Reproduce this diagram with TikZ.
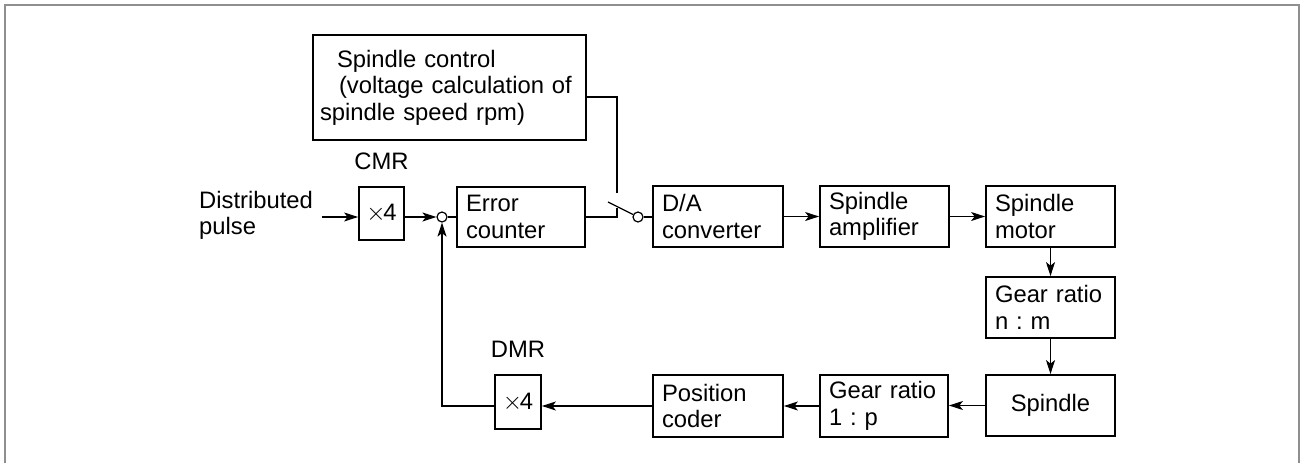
\documentclass[tikz,border=0pt]{standalone}
\usepackage{fontspec}
\setmainfont{Liberation Sans}
\usetikzlibrary{arrows.meta,calc}
\frenchspacing
\begin{document}
\begin{tikzpicture}[x=1pt,y=-1pt,
  font=\fontsize{23.8pt}{26.5pt}\selectfont,
  box/.style={draw, line width=1.8pt, inner ysep=0pt, inner xsep=9pt, align=left},
  lbl/.style={inner sep=0pt, align=left},
  conn/.style={line width=1.2pt},
  arr/.style={conn, -{Stealth[length=14pt,width=9pt,inset=3.5pt]}},
  ring/.style={circle, draw, line width=1.2pt, minimum size=10pt, inner sep=0pt},
  frame/.style={draw=black!44, line width=2.2pt}
]
\useasboundingbox (0,0) rectangle (1302,463);
\draw[frame] (5,475) -- (5,5) -- (1299,5) -- (1299,475);

% boxes
\node[box, text width=259pt, inner xsep=7pt, minimum height=105pt] (sc) at (449.5,87.5)
  {\leftskip=17pt Spindle control\\\hspace*{2pt}(voltage calculation of\\spindle speed rpm)};
\node[box, align=center, inner xsep=0pt, minimum width=45pt, minimum height=53pt] (cmr) at (381.5,213.5) {$\times$\kern-2.5pt 4};
\node[box, text width=110pt, minimum height=60pt] (ec) at (521,217) {Error\\counter};
\node[box, text width=112pt, minimum height=61pt] (da) at (718,216.5) {D/A\\converter};
\node[box, text width=111pt, minimum height=61pt] (amp) at (884.5,216.5) {Spindle\\amplifier};
\node[box, text width=111pt, minimum height=61pt] (mot) at (1050.5,216.5) {Spindle\\motor};
\node[box, text width=111pt, minimum height=61pt] (gnm) at (1050.5,307.5) {Gear ratio\\n : m};
\node[box, text width=111pt, align=center, minimum height=61pt] (sp) at (1050.5,405.5) {Spindle};
\node[box, text width=110pt, minimum height=62pt] (g1p) at (884,406) {Gear ratio\\1 : p};
\node[box, text width=112pt, minimum height=62pt] (pc) at (718,406) {Position\\coder};
\node[box, align=center, inner xsep=0pt, minimum width=46pt, minimum height=54pt] (dmr) at (518,402) {$\times$\kern-2.5pt 4};

% labels
\node[lbl] (cmrl) at (381.5,161.5) {CMR};
\node[lbl] (dmrl) at (518,349.5) {DMR};
\node[lbl, anchor=west] (dp) at (199,215.5) {Distributed\\pulse};

% junctions
\node[ring] (s1) at (442,217) {};
\node[ring] (s2) at (638,217) {};

% connectors
\coordinate (in) at (322,217);
\coordinate (scout) at (586,97);
\coordinate (tp) at (617,193);
\coordinate (sw) at (617,208);
\coordinate (bl) at (608,202);

\draw[arr] (in) -- (in -| cmr.west);
\draw[arr] (s1 -| cmr.east) -- (s1.west);
\draw[conn] (s1.east) -- (s1 -| ec.west);
\draw[conn] (s1 -| ec.east) -| (sw);
\draw[conn] (scout) -| (tp);
\draw[conn] (bl) -- (s2);
\draw[conn] (s2.east) -- (s2 -| da.west);
\draw[arr] (da) -- (amp);
\draw[arr] (amp) -- (mot);
\draw[arr] (mot) -- (gnm);
\draw[arr] (gnm) -- (sp);
\draw[arr] (sp.west) -- (sp.west -| g1p.east);
\draw[arr] (g1p.west) -- (pc.east);
\draw[arr] (pc.west) -- (pc.west -| dmr.east);
\draw[arr] (pc.west -| dmr.west) -| (s1.south);
\end{tikzpicture}
\end{document}
